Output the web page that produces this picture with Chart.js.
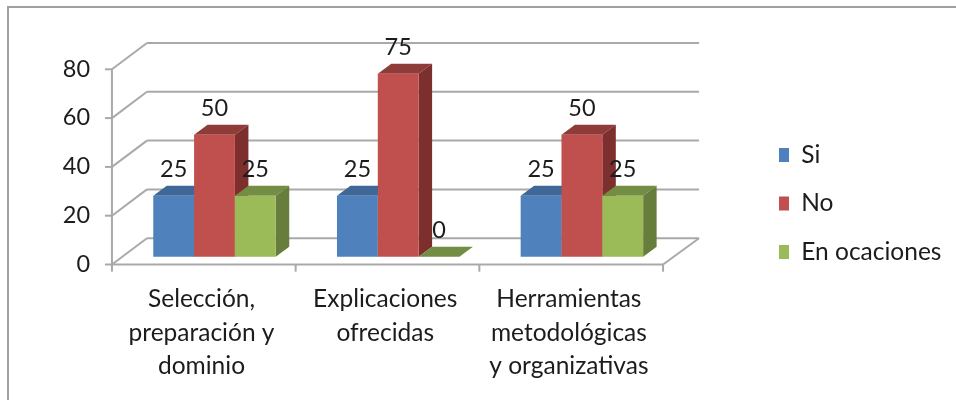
<!DOCTYPE html>
<html><head><meta charset="utf-8">
<style>html,body{margin:0;padding:0;background:#fff}canvas{display:block}</style>
<script src="https://cdn.jsdelivr.net/npm/chart.js@4/dist/chart.umd.min.js"></script>
</head><body><div style="width:956px;height:400px"><canvas id="c" width="956" height="400"></canvas></div>
<script>
const categories = [["Selección,","preparación y","dominio"],["Explicaciones","ofrecidas"],["Herramientas","metodológicas","y organizativas"]];
const si = [25,25,25];
const no = [50,75,50];
const enOcaciones = [25,0,25];
const faceColors = ["#4f81bd","#c0504d","#9bbb59"];
const topColors = ["#3f6797","#8f3b39","#748d44"];
const sideColors = ["#37597f","#7d2f2d","#667d3b"];
const FONT = "Lato, Carlito, sans-serif";
const TEXT = "#1c1c1c";
const DX = 13.5, DY = 10;
const GRID = "#a9a9a9";

function poly(ctx, pts, color){
  ctx.fillStyle = color; ctx.beginPath();
  pts.forEach((p,i)=> i?ctx.lineTo(p[0],p[1]):ctx.moveTo(p[0],p[1]));
  ctx.closePath(); ctx.fill();
}
function line(ctx, x1,y1,x2,y2){ ctx.beginPath(); ctx.moveTo(x1,y1); ctx.lineTo(x2,y2); ctx.stroke(); }

const box3d = {
  id:"box3d",
  beforeDraw(chart){
    const ctx = chart.ctx;
    ctx.save(); ctx.strokeStyle="#a0a0a0"; ctx.lineWidth=2;
    ctx.beginPath(); ctx.moveTo(8,400); ctx.lineTo(8,7); ctx.lineTo(956,7); ctx.stroke();
    ctx.restore();
  },
  afterLayout(chart){
    const l = chart.legend;
    l.left = 779-24; l.top = 118.75; l.right = l.left + l.width; l.bottom = l.top + l.height;
    l.adjustHitBoxes();
  },
  beforeDatasetsDraw(chart){
    const {ctx, scales:{x,y}} = chart;
    const fl = x.left-10.7, fr = x.right-10.7, bl = x.left+24.3, br = x.right+25.3;
    ctx.save(); ctx.strokeStyle = GRID; ctx.lineWidth = 2;
    y.ticks.forEach(t=>{
      const py = y.getPixelForValue(t.value), fy = py+7.8, by = py-18.5;
      line(ctx, fl,fy,bl,by);
      line(ctx, bl,by,br,by);
      line(ctx, fl-7,fy,fl,fy);
    });
    const y0 = y.getPixelForValue(0), ftop = y.getPixelForValue(80)+7.8;
    line(ctx, fl,ftop,fl,y0+7.8);
    line(ctx, fl,y0+7.8,fr,y0+7.8);
    line(ctx, fr,y0+7.8,br,y0-18.5);
    [0,1,2,3].forEach(i=>{ const tx = fl+(fr-fl)*i/3; line(ctx,tx,y0+7.8,tx,y0+15); });
    ctx.restore();
  },
  beforeDatasetDraw(){ return false; },
  afterDatasetsDraw(chart){
    const ctx = chart.ctx;
    ctx.save();
    categories.forEach((_,i)=>{
      chart.data.datasets.forEach((ds,d)=>{
        const b = chart.getDatasetMeta(d).data[i];
        const p = b.getProps(["x","y","base","width"],true);
        const l = p.x-p.width/2, r = p.x+p.width/2;
        poly(ctx,[[l,p.y],[l+DX,p.y-DY],[r+DX,p.y-DY],[r,p.y]],topColors[d]);
        if(p.base-p.y>0.5) poly(ctx,[[r,p.y],[r+DX,p.y-DY],[r+DX,p.base-DY],[r,p.base]],sideColors[d]);
        b.draw(ctx);
      });
    });
    ctx.fillStyle = TEXT; ctx.font = "23.5px "+FONT; ctx.textAlign="center"; ctx.textBaseline="middle";
    chart.data.datasets.forEach((ds,d)=>{
      chart.getDatasetMeta(d).data.forEach((b,i)=>{
        const p = b.getProps(["x","y"],true);
        ctx.fillText(String(ds.data[i]), p.x, p.y-26.5);
      });
    });
    ctx.restore();
  },
  afterDraw(chart){
    // widen the legend swatches to their full 14.5px; the native box is kept narrow so the text sits close
    const ctx = chart.ctx, l = chart.legend;
    ctx.save();
    l.legendHitBoxes.forEach((h,i)=>{
      ctx.fillStyle = faceColors[i];
      ctx.fillRect(h.left, h.top+(h.height-14.5)/2, 14.5, 14.5);
    });
    ctx.restore();
  }
};

new Chart(document.getElementById("c"),{
  type:"bar",
  data:{labels:categories,datasets:[
    {label:"Si",data:si,backgroundColor:faceColors[0]},
    {label:"No",data:no,backgroundColor:faceColors[1]},
    {label:"En ocaciones",data:enOcaciones,backgroundColor:faceColors[2]}
  ]},
  plugins:[box3d],
  options:{
    responsive:false,animation:false,
    events:[],
    layout:{padding:{top:61.5,right:282.25,left:0,bottom:0}},
    datasets:{bar:{categoryPercentage:0.6667,barPercentage:1}},
    plugins:{
      tooltip:{enabled:false},
      legend:{position:"chartArea",align:"start",labels:{
        boxWidth:10,boxHeight:14,padding:24,color:TEXT,font:{family:FONT,size:24.5}
      }}
    },
    scales:{
      x:{grid:{display:false},border:{display:false},
        afterFit(s){s.height=143.3;},
        ticks:{color:TEXT,font:{family:FONT,size:24.5,lineHeight:1.35},maxRotation:0,autoSkip:false,labelOffset:-13,padding:18.3}},
      y:{min:0,max:80,grid:{display:false,drawTicks:false},border:{display:false},
        afterFit(s){s.width=122.65;},
        ticks:{stepSize:20,color:TEXT,font:{family:FONT,size:23.5},labelOffset:7.5,padding:32.6}}
    }
  }
});
</script></body></html>
